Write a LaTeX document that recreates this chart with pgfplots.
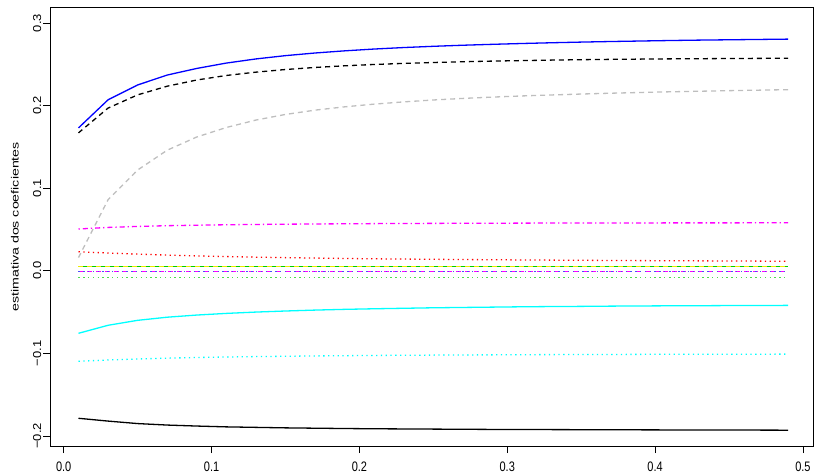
\documentclass[border=0pt]{standalone}
\usepackage{pgfplots}
\usepackage{pgfplotstable}
\pgfplotsset{compat=1.18}
\usepackage{fontspec}
\setmainfont{Liberation Sans}
\definecolor{rgreen}{RGB}{0,205,0}
\definecolor{rgray}{RGB}{190,190,190}
\definecolor{rblue}{RGB}{0,0,255}
\definecolor{rcyan}{RGB}{0,255,255}
\definecolor{rmag}{RGB}{255,0,255}
\definecolor{rred}{RGB}{255,0,0}
\definecolor{ryellow}{RGB}{235,235,0}
\pgfplotstableread{
x    blue   bdash  gray   magdd  red    green  yell   magd   bdot   gdot   cyan   cdot   black
0.01 0.1730 0.1670 0.0160 0.0506 0.0230 0.0055 0.0050 -0.0010 -0.0010 -0.0080 -0.0757 -0.1096 -0.1786
0.03 0.2070 0.1970 0.0860 0.0525 0.0215 0.0055 0.0050 -0.0010 -0.0010 -0.0080 -0.0660 -0.1080 -0.1820
0.05 0.2250 0.2130 0.1220 0.0537 0.0202 0.0055 0.0050 -0.0010 -0.0010 -0.0080 -0.0600 -0.1068 -0.1850
0.07 0.2370 0.2235 0.1460 0.0546 0.0190 0.0055 0.0050 -0.0010 -0.0010 -0.0080 -0.0562 -0.1058 -0.1868
0.09 0.2450 0.2310 0.1620 0.0552 0.0180 0.0055 0.0050 -0.0010 -0.0010 -0.0080 -0.0536 -0.1050 -0.1880
0.11 0.2515 0.2365 0.1735 0.0557 0.0172 0.0055 0.0050 -0.0010 -0.0010 -0.0080 -0.0516 -0.1044 -0.1890
0.13 0.2565 0.2405 0.1825 0.0561 0.0165 0.0055 0.0050 -0.0010 -0.0010 -0.0080 -0.0500 -0.1039 -0.1896
0.15 0.2605 0.2437 0.1893 0.0564 0.0159 0.0055 0.0050 -0.0010 -0.0010 -0.0080 -0.0487 -0.1035 -0.1902
0.17 0.2637 0.2462 0.1945 0.0567 0.0154 0.0055 0.0050 -0.0010 -0.0010 -0.0080 -0.0476 -0.1031 -0.1906
0.19 0.2663 0.2482 0.1985 0.0569 0.0149 0.0055 0.0050 -0.0010 -0.0010 -0.0080 -0.0467 -0.1028 -0.1910
0.21 0.2685 0.2498 0.2018 0.0571 0.0145 0.0055 0.0050 -0.0010 -0.0010 -0.0080 -0.0460 -0.1025 -0.1913
0.23 0.2703 0.2511 0.2045 0.0573 0.0142 0.0055 0.0050 -0.0010 -0.0010 -0.0080 -0.0454 -0.1023 -0.1915
0.25 0.2718 0.2522 0.2068 0.0574 0.0139 0.0055 0.0050 -0.0010 -0.0010 -0.0080 -0.0448 -0.1021 -0.1917
0.27 0.2731 0.2531 0.2087 0.0575 0.0136 0.0055 0.0050 -0.0010 -0.0010 -0.0080 -0.0444 -0.1019 -0.1919
0.29 0.2742 0.2539 0.2103 0.0576 0.0134 0.0055 0.0050 -0.0010 -0.0010 -0.0080 -0.0440 -0.1018 -0.1921
0.31 0.2752 0.2545 0.2117 0.0577 0.0131 0.0055 0.0050 -0.0010 -0.0010 -0.0080 -0.0436 -0.1016 -0.1922
0.33 0.2761 0.2551 0.2129 0.0578 0.0129 0.0055 0.0050 -0.0010 -0.0010 -0.0080 -0.0433 -0.1015 -0.1923
0.35 0.2769 0.2556 0.2140 0.0578 0.0127 0.0055 0.0050 -0.0010 -0.0010 -0.0080 -0.0431 -0.1014 -0.1924
0.37 0.2776 0.2560 0.2150 0.0579 0.0125 0.0055 0.0050 -0.0010 -0.0010 -0.0080 -0.0428 -0.1013 -0.1925
0.39 0.2782 0.2563 0.2159 0.0579 0.0123 0.0055 0.0050 -0.0010 -0.0010 -0.0080 -0.0426 -0.1012 -0.1926
0.41 0.2788 0.2566 0.2167 0.0580 0.0122 0.0055 0.0050 -0.0010 -0.0010 -0.0080 -0.0424 -0.1011 -0.1927
0.43 0.2793 0.2568 0.2174 0.0580 0.0120 0.0055 0.0050 -0.0010 -0.0010 -0.0080 -0.0423 -0.1011 -0.1928
0.45 0.2797 0.2570 0.2181 0.0580 0.0119 0.0055 0.0050 -0.0010 -0.0010 -0.0080 -0.0421 -0.1010 -0.1928
0.47 0.2801 0.2572 0.2187 0.0581 0.0117 0.0055 0.0050 -0.0010 -0.0010 -0.0080 -0.0420 -0.1010 -0.1929
0.49 0.2805 0.2573 0.2193 0.0581 0.0115 0.0055 0.0050 -0.0010 -0.0010 -0.0080 -0.0419 -0.1009 -0.1930
}\data
\begin{document}
\begin{tikzpicture}
\useasboundingbox (-50pt,-29.3pt) rectangle (765pt,446.7pt);
\begin{axis}[
  at={(0pt,0pt)}, anchor=south west,
  scale only axis, width=763pt, height=439.7pt,
  xmin=-0.00927, xmax=0.5068, ymin=-0.2130, ymax=0.3194,
  axis line style={line width=0.8pt},
  xtick={0,0.1,...,0.5}, ytick={-0.2,-0.1,0,0.1,0.2,0.3},
  xticklabels={0.0,0.1,0.2,0.3,0.4,0.5},
  yticklabels={−0.2,−0.1,0.0,0.1,0.2,0.3},
  tick align=outside, major tick length=6.5pt,
  xtick pos=bottom, ytick pos=left,
  tick style={line width=0.8pt, black},
  /pgf/number format/assume math mode=true,
  xticklabel style={font=\fontsize{11}{13}\selectfont, yscale=1.25, inner sep=0pt, yshift=-7pt},
  yticklabel style={font=\fontsize{11.5}{13}\selectfont, rotate=90, xscale=1.13, anchor=south, inner sep=0pt, yshift=2pt},
  ylabel={estimativa dos coeficientes},
  ylabel style={at={(axis description cs:-0.0459,0.5)}, anchor=center, rotate=0, xscale=1.35, font=\fontsize{10.5}{12}\selectfont},
  clip=true,
]
\addplot[rblue, line width=1.3pt] table[x=x,y=blue]{\data};
\addplot[black, line width=1.3pt, dash pattern=on 5pt off 4pt] table[x=x,y=bdash]{\data};
\addplot[rgray, line width=1.3pt, dash pattern=on 5pt off 4pt] table[x=x,y=gray]{\data};
\addplot[rmag, line width=1.3pt, dash pattern=on 1.3pt off 3pt on 5pt off 3pt] table[x=x,y=magdd]{\data};
\addplot[rred, line width=1.3pt, dash pattern=on 1.3pt off 3.5pt] table[x=x,y=red]{\data};
\addplot[rgreen, line width=1.3pt] table[x=x,y=green]{\data};
\addplot[ryellow, line width=1.3pt, dash pattern=on 5pt off 4pt] table[x=x,y=yell]{\data};
\addplot[rmag, line width=1.3pt, dash pattern=on 5pt off 4pt] table[x=x,y=magd]{\data};
\addplot[rblue!70, line width=1.3pt, dash pattern=on 1.3pt off 3.5pt] table[x=x,y=bdot]{\data};
\addplot[rgreen!70, line width=1.3pt, dash pattern=on 1.3pt off 3.5pt] table[x=x,y=gdot]{\data};
\addplot[rcyan, line width=1.3pt] table[x=x,y=cyan]{\data};
\addplot[rcyan, line width=1.3pt, dash pattern=on 1.3pt off 3.5pt] table[x=x,y=cdot]{\data};
\addplot[black, line width=1.3pt] table[x=x,y=black]{\data};
\end{axis}
\end{tikzpicture}
\end{document}
